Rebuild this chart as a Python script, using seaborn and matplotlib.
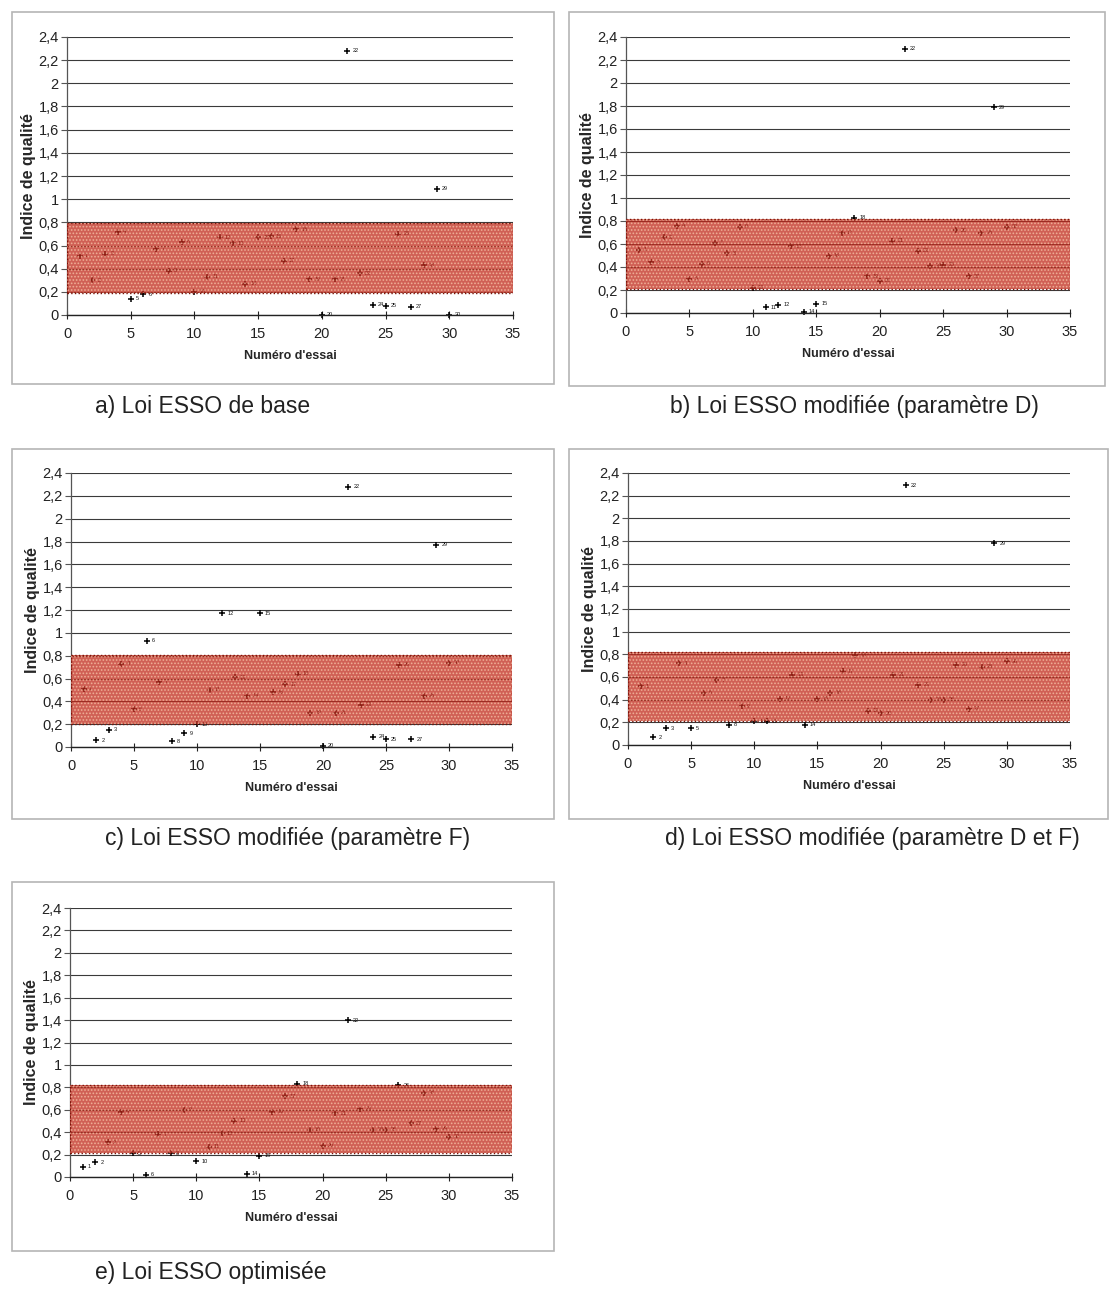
import numpy as np
import matplotlib
matplotlib.use("Agg")
import matplotlib.pyplot as plt
from matplotlib.patches import Rectangle
from matplotlib.ticker import FuncFormatter, MultipleLocator
import seaborn as sns

# numéros d'essai (1 à 30)
essais = list(range(1, 31))

# indice de qualité lu sur chaque graphique
qualite_a = [0.51, 0.30, 0.53, 0.72, 0.14, 0.18, 0.57, 0.38, 0.63, 0.20,
             0.33, 0.67, 0.62, 0.27, 0.67, 0.68, 0.47, 0.74, 0.31, 0.00,
             0.31, 2.28, 0.36, 0.09, 0.08, 0.70, 0.07, 0.43, 1.09, 0.00]
qualite_b = [0.55, 0.44, 0.66, 0.76, 0.30, 0.43, 0.61, 0.52, 0.75, 0.22,
             0.05, 0.07, 0.58, 0.01, 0.08, 0.50, 0.70, 0.83, 0.32, 0.28,
             0.63, 2.30, 0.54, 0.41, 0.42, 0.72, 0.32, 0.70, 1.79, 0.75]
qualite_c = [0.51, 0.06, 0.15, 0.73, 0.33, 0.93, 0.57, 0.05, 0.12, 0.20,
             0.50, 1.17, 0.61, 0.45, 1.17, 0.48, 0.55, 0.64, 0.30, 0.01,
             0.30, 2.28, 0.37, 0.09, 0.07, 0.72, 0.07, 0.45, 1.77, 0.74]
qualite_d = [0.52, 0.07, 0.15, 0.72, 0.15, 0.46, 0.57, 0.18, 0.34, 0.21,
             0.21, 0.41, 0.62, 0.18, 0.41, 0.46, 0.65, 0.79, 0.30, 0.28,
             0.62, 2.29, 0.53, 0.40, 0.40, 0.71, 0.32, 0.69, 1.78, 0.74]
qualite_e = [0.09, 0.13, 0.31, 0.58, 0.21, 0.02, 0.38, 0.21, 0.60, 0.14,
             0.27, 0.39, 0.50, 0.03, 0.19, 0.58, 0.72, 0.83, 0.42, 0.28,
             0.57, 1.40, 0.61, 0.42, 0.42, 0.82, 0.48, 0.75, 0.43, 0.36]

# zone de qualité acceptable (bande rouge)
bande_bas = [0.19, 0.21, 0.20, 0.21, 0.21]
bande_haut = [0.79, 0.82, 0.81, 0.82, 0.82]

legendes = ["a) Loi ESSO de base",
            "b) Loi ESSO modifiée (paramètre D)",
            "c) Loi ESSO modifiée (paramètre F)",
            "d) Loi ESSO modifiée (paramètre D et F)",
            "e) Loi ESSO optimisée"]
series = [qualite_a, qualite_b, qualite_c, qualite_d, qualite_e]

sns.set_theme(style="white")
plt.rcParams['font.family'] = ['Liberation Sans Narrow', 'Liberation Sans', 'DejaVu Sans']
plt.rcParams['hatch.linewidth'] = 0.8

W, H = 1110, 1301
fig = plt.figure(figsize=(W / 100, H / 100), dpi=100, facecolor="white")

# positions en pixels : (gauche, droite, y de 0, y de 2.4)
zones_axes = [(67, 513, 315, 37), (626, 1070, 313, 37), (71, 512, 747, 473),
              (628, 1070, 745, 473), (70, 512, 1177, 908)]
# cadres gris : (x0, y0, x1, y1)
cadres = [(12, 12, 554, 384), (569, 12, 1105, 386), (12, 449, 554, 819),
          (569, 449, 1108, 819), (12, 882, 554, 1251)]
pos_legendes = [(95, 406), (670, 406), (105, 839), (665, 839), (95, 1272)]

fmt = FuncFormatter(lambda v, p: f"{round(v, 1):g}".replace(".", ","))

for i in range(5):
    x0, y0, x1, y1 = cadres[i]
    fig.add_artist(Rectangle((x0 / W, 1 - y1 / H), (x1 - x0) / W, (y1 - y0) / H,
                             transform=fig.transFigure, fill=False,
                             edgecolor="#b5b5b5", lw=1.2))

    g, d, yb, yh = zones_axes[i]
    ax = fig.add_axes([g / W, 1 - yb / H, (d - g) / W, (yb - yh) / H])
    ax.set_facecolor("white")

    vals = series[i]
    sns.scatterplot(x=essais, y=vals, ax=ax, marker="+", color="black",
                    s=24, linewidth=1.1, zorder=2, clip_on=False)
    for n, v in zip(essais, vals):
        ax.text(n + 0.4, v, str(n), fontsize=4, va="center", color="#111111", zorder=2)

    # bande rouge hachurée par-dessus les points
    ax.add_patch(Rectangle((0, bande_bas[i]), 35, bande_haut[i] - bande_bas[i],
                           facecolor="#c0281a", edgecolor="#f7c4a8", hatch=".....",
                           lw=0, alpha=0.74, zorder=3))
    ax.add_patch(Rectangle((0, bande_bas[i]), 35, bande_haut[i] - bande_bas[i],
                           fill=False, edgecolor="#7a1208", lw=1.0, ls=":", zorder=4))

    ax.set_xlim(0, 35)
    ax.set_ylim(0, 2.4)
    ax.xaxis.set_major_locator(MultipleLocator(5))
    ax.yaxis.set_major_locator(MultipleLocator(0.2))
    ax.yaxis.set_major_formatter(fmt)
    ax.yaxis.grid(True, color="#3a3a3a", lw=0.8)
    ax.set_axisbelow(True)

    for s in ["top", "right"]:
        ax.spines[s].set_visible(False)
    ax.spines["left"].set_color("#555555")
    ax.spines["bottom"].set_color("#222222")
    ax.spines["left"].set_linewidth(0.9)
    ax.spines["bottom"].set_linewidth(1.0)
    ax.tick_params(axis="y", left=True, length=4, width=0.8, color="#555555",
                   labelsize=10.5, pad=2, labelcolor="#222222")
    ax.tick_params(axis="x", bottom=True, direction="inout", length=6, width=0.8,
                   color="#222222", labelsize=10.5, pad=6, labelcolor="#222222")

    ax.set_xlabel("Numéro d'essai", fontsize=9, fontweight="bold", labelpad=6)
    ax.set_ylabel("Indice de qualité", fontsize=11.5, fontweight="bold", labelpad=2)

    lx, ly = pos_legendes[i]
    fig.text(lx / W, 1 - ly / H, legendes[i], fontsize=16.5, va="center", ha="left",
             family=["Liberation Sans", "DejaVu Sans"], color="#222222")

fig.savefig("out.png", dpi=100, facecolor="white")
